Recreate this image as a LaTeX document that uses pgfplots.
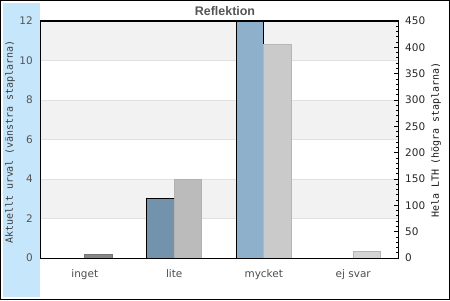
\documentclass[border=0pt]{standalone}
\usepackage{fontspec}
\setmainfont{DejaVu Sans}
\setmonofont{DejaVu Sans Mono}
\newfontfamily\titlefont{Liberation Sans}
\usepackage{pgfplots}
\pgfplotsset{compat=1.18}
\definecolor{band}{HTML}{F2F2F2}
\definecolor{gridc}{HTML}{E0E0E0}
\definecolor{side}{HTML}{C6E6FB}
\definecolor{bA}{HTML}{7393AD}
\definecolor{bB}{HTML}{8FB0CB}
\definecolor{gA}{HTML}{888888}
\definecolor{gB}{HTML}{BBBBBB}
\definecolor{gC}{HTML}{CACACA}
\definecolor{gD}{HTML}{D4D4D4}
\definecolor{txt}{HTML}{555555}
\begin{document}
\begin{tikzpicture}[x=1bp,y=1bp]
\path[use as bounding box] (0,0) rectangle (450,300);
\fill[side] (3,3) rectangle (40,297);
\draw[black, line width=1bp] (0.5,0.5) rectangle (449.5,299.5);
\begin{axis}[at={(40bp,42bp)}, anchor=south west, scale only axis,
  width=358bp, height=237bp,
  xmin=0, xmax=4, ymin=0, ymax=12,
  ytick={0,2,...,12},
  xtick={0.5,1.5,2.5,3.5},
  xticklabels={inget,lite,mycket,ej svar},
  major tick length=0pt, tick align=inside,
  axis line style={black, line width=1bp},
  axis on top,
  /pgf/number format/assume math mode=true,
  yticklabel style={anchor=east, inner sep=0pt, xshift=-7bp, text=txt, font=\fontsize{10.5}{12}\selectfont},
  xticklabel style={anchor=base, inner sep=0pt, yshift=-19bp, text=txt!90!black, font=\fontsize{10.5}{12}\selectfont},
  ybar, bar width=27.5bp,
]
\fill[band] (axis cs:0,2) rectangle (axis cs:4,4);
\fill[band] (axis cs:0,6) rectangle (axis cs:4,8);
\fill[band] (axis cs:0,10) rectangle (axis cs:4,12);
\foreach \yy in {2,4,6,8,10} {\edef\tmp{\noexpand\draw[gridc, line width=0.8bp] (axis cs:0,\yy) -- (axis cs:4,\yy);}\tmp}
\addplot[bar shift=-13.75bp, fill=bA, draw=black, line width=0.8bp] coordinates {(1.5,3)};
\addplot[bar shift=-13.75bp, fill=bB, draw=black, line width=0.8bp] coordinates {(2.5,12.3)};
\end{axis}
\begin{axis}[at={(40bp,42bp)}, anchor=south west, scale only axis,
  width=358bp, height=237bp,
  xmin=0, xmax=4, ymin=0, ymax=450,
  axis y line*=right, axis x line*=bottom, xtick=\empty,
  ytick={0,50,...,450}, minor y tick num=4,
  major tick length=4bp, minor tick length=2bp, tick align=inside,
  tick style={black, line width=0.8bp},
  axis line style={black, line width=1bp, -},
  axis on top,
  /pgf/number format/assume math mode=true,
  yticklabel style={anchor=west, inner sep=0pt, xshift=7bp, text=black!85, font=\fontsize{10.5}{12}\selectfont},
  ybar, bar width=27.5bp,
]
\addplot[bar shift=13.75bp, fill=gA, draw=gA!85!black, line width=0.6bp] coordinates {(0.5,7)};
\addplot[bar shift=13.75bp, fill=gB, draw=gB!95!black, line width=0.6bp] coordinates {(1.5,150)};
\addplot[bar shift=13.75bp, fill=gC, draw=gC!90!black, line width=0.6bp] coordinates {(2.5,405)};
\addplot[bar shift=13.75bp, fill=gD, draw=gD!85!black, line width=0.6bp] coordinates {(3.5,13)};
\end{axis}
\draw[black, line width=1bp] (40,279) -- (398,279);
\node[rotate=90, font=\ttfamily\fontsize{10}{12}\selectfont, text=black!75] at (10,158) {Aktuellt urval (vänstra staplarna)};
\node[rotate=90, font=\ttfamily\fontsize{10}{12}\selectfont, text=black!90] at (436,160) {Hela LTH (högra staplarna)};
\node[font=\titlefont\bfseries\fontsize{12.5}{14}\selectfont, text=txt] at (225,288.5) {Reflektion};
\end{tikzpicture}
\end{document}
